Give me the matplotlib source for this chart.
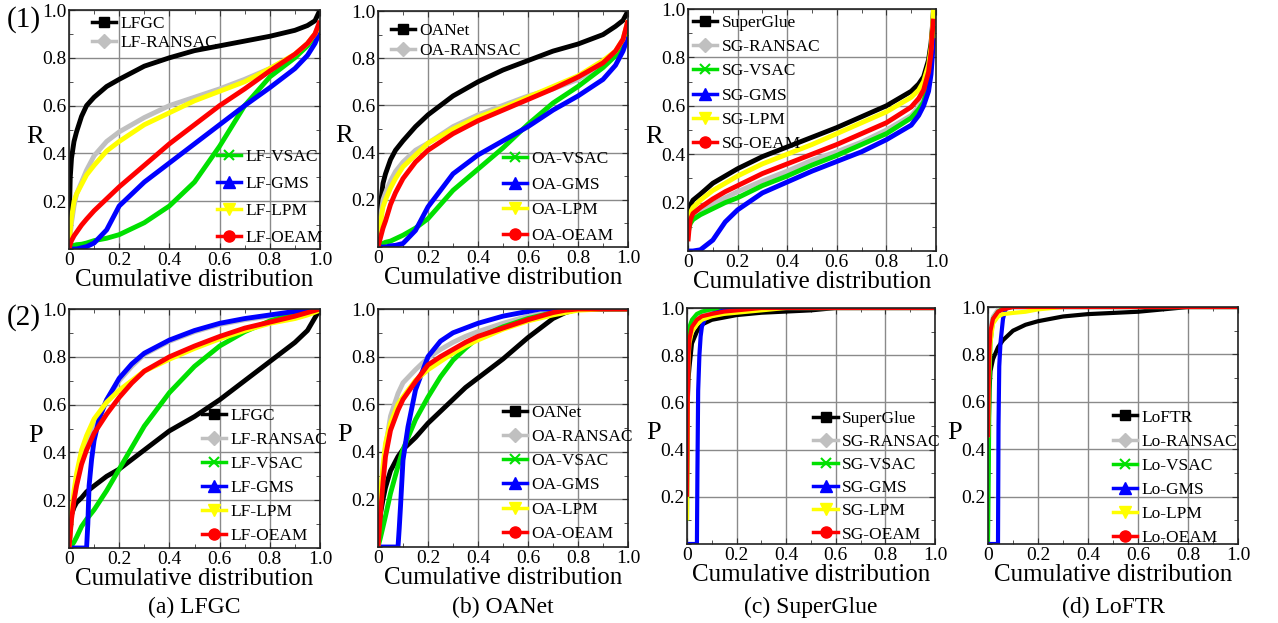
import matplotlib
matplotlib.use("Agg")
import matplotlib.pyplot as plt
from matplotlib.lines import Line2D
from matplotlib.ticker import MultipleLocator

plt.rcParams['font.family'] = ['Liberation Serif', 'DejaVu Serif']

# ---------------- data ----------------
SERIES_A = ["LFGC", "LF-RANSAC", "LF-VSAC", "LF-GMS", "LF-LPM", "LF-OEAM"]
SERIES_B = ["OANet", "OA-RANSAC", "OA-VSAC", "OA-GMS", "OA-LPM", "OA-OEAM"]
SERIES_C = ["SuperGlue", "SG-RANSAC", "SG-VSAC", "SG-GMS", "SG-LPM", "SG-OEAM"]
SERIES_D = ["LoFTR", "Lo-RANSAC", "Lo-VSAC", "Lo-GMS", "Lo-LPM", "Lo-OEAM"]
XTICK_LABELS = ["0", "0.2", "0.4", "0.6", "0.8", "1.0"]
YTICK_LABELS = ["0.2", "0.4", "0.6", "0.8", "1.0"]
CAPTIONS = ["(a) LFGC", "(b) OANet", "(c) SuperGlue", "(d) LoFTR"]

# (1) Recall, LFGC
RA_X = [0, .005, .01, .02, .03, .05, .07, .1, .15, .2, .3, .4, .5, .6, .7, .8, .9, .95, .98, 1.0]
RA_BASE = [.08, .3, .38, .45, .49, .555, .6, .635, .68, .71, .765, .8, .83, .85, .87, .89, .915, .935, .955, 1.0]
RA_RANSAC = [0, .06, .11, .18, .23, .28, .33, .39, .45, .49, .55, .6, .635, .67, .71, .755, .81, .86, .9, .95]
RA_VSAC = [0, .005, .01, .015, .018, .02, .025, .035, .045, .06, .11, .18, .28, .43, .6, .72, .8, .85, .89, .94]
RA_GMS = [0, 0, 0, 0, 0, .005, .01, .025, .08, .18, .28, .36, .44, .52, .6, .675, .755, .81, .86, .91]
RA_LPM = [0, .08, .13, .2, .23, .27, .31, .35, .41, .45, .52, .57, .62, .66, .7, .755, .815, .86, .9, .94]
RA_OEAM = [0, .02, .035, .055, .07, .1, .125, .16, .21, .26, .35, .44, .52, .6, .67, .745, .815, .86, .9, .955]

# (1) Recall, OANet
RB_X = [0, .005, .01, .02, .03, .05, .07, .1, .15, .2, .3, .4, .5, .6, .7, .8, .9, .95, .98, 1.0]
RB_BASE = [0, .12, .18, .27, .31, .37, .41, .45, .51, .56, .64, .7, .75, .79, .83, .86, .9, .935, .96, 1.0]
RB_RANSAC = [0, .08, .13, .2, .23, .28, .32, .36, .41, .44, .51, .56, .6, .64, .67, .71, .775, .82, .87, .96]
RB_VSAC = [0, .005, .01, .015, .02, .025, .035, .05, .08, .12, .24, .33, .42, .52, .61, .68, .76, .81, .86, .92]
RB_GMS = [0, 0, 0, 0, 0, .005, .007, .015, .07, .17, .31, .39, .45, .51, .58, .64, .71, .77, .83, .89]
RB_LPM = [0, .06, .1, .17, .2, .25, .29, .34, .39, .44, .5, .55, .59, .635, .68, .725, .79, .83, .88, .96]
RB_OEAM = [0, .02, .04, .08, .11, .18, .23, .29, .36, .41, .48, .535, .58, .625, .67, .72, .78, .83, .88, .96]

# (1) Recall, SuperGlue
RC_X = [0, .005, .01, .02, .05, .1, .15, .2, .3, .4, .5, .6, .7, .8, .9, .93, .95, .97, .98, .985, .99]
RC_BASE = [.13, .17, .19, .21, .235, .28, .31, .34, .39, .43, .47, .51, .555, .6, .66, .69, .72, .79, .86, .92, 1.0]
RC_RANSAC = [.07, .11, .13, .145, .165, .195, .22, .245, .29, .33, .375, .41, .45, .5, .56, .595, .63, .7, .78, .87, .95]
RC_VSAC = [.07, .1, .115, .13, .15, .175, .2, .22, .27, .31, .355, .395, .44, .485, .55, .585, .615, .69, .76, .85, .93]
RC_GMS = [0, 0, 0, 0, .005, .045, .12, .17, .24, .285, .33, .37, .41, .46, .52, .56, .6, .66, .73, .8, .88]
RC_LPM = [.1, .14, .16, .18, .21, .25, .28, .31, .36, .4, .44, .485, .53, .575, .635, .665, .7, .77, .84, .91, 1.0]
RC_OEAM = [.04, .1, .13, .155, .18, .215, .245, .27, .32, .36, .4, .44, .485, .53, .595, .63, .665, .74, .82, .9, .96]

# (2) Precision, LFGC
PA_X = [0, .01, .02, .03, .05, .07, .1, .15, .2, .25, .3, .4, .5, .6, .7, .8, .9, .95, 1.0]
PA_BASE = [0, .14, .17, .19, .21, .235, .26, .3, .33, .37, .41, .49, .55, .62, .7, .78, .86, .91, 1.0]
PA_RANSAC = [0, .14, .21, .27, .37, .43, .51, .62, .7, .76, .81, .865, .905, .935, .955, .97, .985, .993, 1.0]
PA_VSAC = [0, .01, .025, .045, .09, .12, .16, .24, .33, .42, .51, .65, .76, .845, .905, .95, .98, .99, 1.0]
PA_LPM = [0, .14, .24, .31, .41, .47, .54, .61, .66, .7, .74, .79, .835, .875, .91, .94, .96, .975, .995]
PA_OEAM = [0, .12, .2, .26, .35, .41, .48, .56, .63, .69, .74, .8, .845, .885, .92, .945, .97, .985, 1.0]
PA_GMS_X = [0, .07, .075, .08, .09, .1, .12, .15, .2, .25, .3, .4, .5, .6, .7, .8, .9, 1.0]
PA_GMS = [0, 0, .1, .26, .37, .45, .54, .62, .71, .77, .815, .87, .91, .94, .96, .975, .99, 1.0]

# (2) Precision, OANet
PB_X = [0, .01, .02, .03, .05, .08, .1, .15, .2, .25, .3, .35, .4, .5, .6, .7, .75, .8, .9, 1.0]
PB_BASE = [0, .14, .2, .25, .32, .38, .41, .46, .52, .57, .62, .67, .71, .79, .88, .96, .985, 1.0, 1.0, 1.0]
PB_RANSAC = [0, .21, .32, .42, .55, .645, .69, .745, .795, .83, .86, .885, .905, .94, .97, .99, .995, 1.0, 1.0, 1.0]
PB_VSAC = [0, .04, .085, .13, .225, .34, .41, .535, .63, .715, .785, .835, .88, .925, .96, .985, .995, 1.0, 1.0, 1.0]
PB_LPM = [0, .22, .34, .435, .52, .6, .63, .7, .745, .78, .815, .845, .87, .915, .95, .975, .985, .995, 1.0, 1.0]
PB_OEAM = [0, .14, .27, .38, .49, .575, .62, .695, .765, .8, .83, .86, .885, .92, .955, .985, .995, 1.0, 1.0, 1.0]
PB_GMS_X = [0, .08, .085, .09, .1, .12, .15, .2, .25, .3, .4, .5, .6, .65, 1.0]
PB_GMS = [0, 0, .08, .17, .365, .505, .66, .8, .865, .9, .94, .97, .99, 1.0, 1.0]

# (2) Precision, SuperGlue
PC_X = [0, .003, .006, .01, .02, .04, .06, .1, .15, .2, .3, .4, .5, .6, 1.0]
PC_BASE = [.3, .6, .7, .75, .85, .9, .93, .95, .96, .97, .98, .985, .99, 1.0, 1.0]
PC_RANSAC = [.2, .7, .85, .9, .94, .965, .98, .99, .995, 1.0, 1.0, 1.0, 1.0, 1.0, 1.0]
PC_VSAC = [.1, .7, .88, .92, .95, .975, .985, .995, 1.0, 1.0, 1.0, 1.0, 1.0, 1.0, 1.0]
PC_LPM = [.1, .6, .78, .85, .9, .93, .95, .965, .975, .98, .99, 1.0, 1.0, 1.0, 1.0]
PC_OEAM = [.2, .6, .8, .87, .92, .95, .965, .975, .985, .99, 1.0, 1.0, 1.0, 1.0, 1.0]
PC_GMS_X = [0, .04, .042, .045, .05, .055, .06, .07, .1, .15, .2, 1.0]
PC_GMS = [0, 0, .3, .65, .8, .88, .92, .95, .975, .99, 1.0, 1.0]

# (2) Precision, LoFTR
PD_X = [0, .003, .006, .01, .02, .04, .06, .1, .15, .2, .3, .4, .5, .6, .7, .8, 1.0]
PD_BASE = [.3, .5, .65, .73, .78, .83, .86, .9, .925, .94, .96, .97, .975, .98, .99, 1.0, 1.0]
PD_RANSAC = [.4, .75, .88, .92, .96, .99, 1.0, 1.0, 1.0, 1.0, 1.0, 1.0, 1.0, 1.0, 1.0, 1.0, 1.0]
PD_VSAC = [0, .3, .7, .85, .95, .98, .995, 1.0, 1.0, 1.0, 1.0, 1.0, 1.0, 1.0, 1.0, 1.0, 1.0]
PD_LPM = [.45, .65, .78, .85, .93, .96, .97, .975, .98, .99, 1.0, 1.0, 1.0, 1.0, 1.0, 1.0, 1.0]
PD_OEAM = [.45, .7, .83, .9, .95, .98, .99, 1.0, 1.0, 1.0, 1.0, 1.0, 1.0, 1.0, 1.0, 1.0, 1.0]
PD_GMS_X = [0, .04, .042, .045, .05, .06, .07, .08, 1.0]
PD_GMS = [0, 0, .5, .75, .85, .95, .99, 1.0, 1.0]

# ---------------- style ----------------
COLORS = ["#000000", "#c0c0c0", "#00e000", "#0000ff", "#ffff00", "#ff0000"]
MARKERS = ["s", "D", "x", "^", "v", "o"]
MSIZES = [7, 7, 7, 8, 8, 8]

W, H = 1278, 623
fig = plt.figure(figsize=(W / 100, H / 100), dpi=100)


def make_ax(x0, x1, y0, y1):
    return fig.add_axes([x0 / W, 1 - y1 / H, (x1 - x0) / W, (y1 - y0) / H])


def setup(ax, ylab):
    ax.set_xlim(0, 1.0)
    ax.set_ylim(0, 1.0)
    ax.set_xticks([0, .2, .4, .6, .8, 1.0])
    ax.set_xticklabels(XTICK_LABELS)
    ax.set_yticks([.2, .4, .6, .8, 1.0])
    ax.set_yticklabels(YTICK_LABELS)
    ax.xaxis.set_minor_locator(MultipleLocator(0.1))
    ax.yaxis.set_minor_locator(MultipleLocator(0.1))
    ax.grid(True, which='major', color='#8a8a8a', lw=1.0)
    ax.set_axisbelow(True)
    ax.tick_params(which='both', direction='in', top=True, right=True,
                   labelsize=14, pad=2, color='#333333')
    ax.tick_params(which='major', length=4)
    ax.tick_params(which='minor', length=3)
    for s in ax.spines.values():
        s.set_color('#222222')
        s.set_linewidth(1.2)
    ax.set_xlabel("Cumulative distribution", fontsize=18, labelpad=0)
    ax.text(-0.135, 0.47, ylab, transform=ax.transAxes, fontsize=19,
            ha='center', va='center')


def draw(ax, xs, ys_list, lw=3.5):
    for (x, y), c in zip(zip(xs, ys_list), COLORS):
        ax.plot(x, y, color=c, lw=lw, solid_joinstyle='round', solid_capstyle='butt',
                clip_on=True)


def handles(names, idx):
    return [Line2D([], [], color=COLORS[i], lw=2.5, marker=MARKERS[i],
                   markersize=MSIZES[i], markeredgewidth=1.5 if MARKERS[i] == 'x' else 1.0,
                   label=names[i]) for i in idx]


def add_legend(ax, names, idx, anchor, spacing):
    leg = ax.legend(handles=handles(names, idx), loc='upper left', bbox_to_anchor=anchor,
                    frameon=False, fontsize=12.5, borderpad=0, borderaxespad=0,
                    handlelength=1.4, handletextpad=0.25, labelspacing=spacing)
    return leg


# ---- top row (Recall) ----
axA = make_ax(69, 320, 10, 249)
setup(axA, "R")
draw(axA, [RA_X] * 6, [RA_BASE, RA_RANSAC, RA_VSAC, RA_GMS, RA_LPM, RA_OEAM])
l1 = add_legend(axA, SERIES_A, [0, 1], (0.09, 0.975), 0.15)
axA.add_artist(l1)
add_legend(axA, SERIES_A, [2, 3, 4, 5], (0.59, 0.417), 0.62)

axB = make_ax(378, 628, 11, 247)
setup(axB, "R")
draw(axB, [RB_X] * 6, [RB_BASE, RB_RANSAC, RB_VSAC, RB_GMS, RB_LPM, RB_OEAM])
l2 = add_legend(axB, SERIES_B, [0, 1], (0.05, 0.95), 0.2)
axB.add_artist(l2)
add_legend(axB, SERIES_B, [2, 3, 4, 5], (0.5, 0.407), 0.54)

axC = make_ax(688, 936, 9, 251)
setup(axC, "R")
draw(axC, [RC_X] * 6, [RC_BASE, RC_RANSAC, RC_VSAC, RC_GMS, RC_LPM, RC_OEAM])
add_legend(axC, SERIES_C, [0, 1, 2, 3, 4, 5], (0.02, 0.975), 0.46)

# ---- bottom row (Precision) ----
axD = make_ax(69, 320, 309, 548)
setup(axD, "P")
draw(axD, [PA_X, PA_X, PA_X, PA_GMS_X, PA_X, PA_X],
     [PA_BASE, PA_RANSAC, PA_VSAC, PA_GMS, PA_LPM, PA_OEAM])
add_legend(axD, SERIES_A, range(6), (0.53, 0.588), 0.46)

axE = make_ax(378, 628, 309, 547)
setup(axE, "P")
draw(axE, [PB_X, PB_X, PB_X, PB_GMS_X, PB_X, PB_X],
     [PB_BASE, PB_RANSAC, PB_VSAC, PB_GMS, PB_LPM, PB_OEAM])
add_legend(axE, SERIES_B, range(6), (0.5, 0.597), 0.46)

axF = make_ax(687, 935, 308, 544)
setup(axF, "P")
draw(axF, [PC_X, PC_X, PC_X, PC_GMS_X, PC_X, PC_X],
     [PC_BASE, PC_RANSAC, PC_VSAC, PC_GMS, PC_LPM, PC_OEAM], lw=3.0)
add_legend(axF, SERIES_C, range(6), (0.51, 0.564), 0.4)

axG = make_ax(988, 1238, 307, 544)
setup(axG, "P")
draw(axG, [PD_X, PD_X, PD_X, PD_GMS_X, PD_X, PD_X],
     [PD_BASE, PD_RANSAC, PD_VSAC, PD_GMS, PD_LPM, PD_OEAM], lw=3.0)
add_legend(axG, SERIES_D, range(6), (0.5, 0.568), 0.46)

# ---- captions / row labels ----
for ax, cap in zip([axD, axE, axF, axG], CAPTIONS):
    pos = ax.get_position()
    fig.text(pos.x0 + pos.width / 2, 1 - 607 / H, cap, fontsize=17,
             ha='center', va='center')
fig.text(7 / W, 1 - 20 / H, "(1)", fontsize=21, ha='left', va='center')
fig.text(7 / W, 1 - 318 / H, "(2)", fontsize=21, ha='left', va='center')

fig.savefig("out.png", dpi=100)
